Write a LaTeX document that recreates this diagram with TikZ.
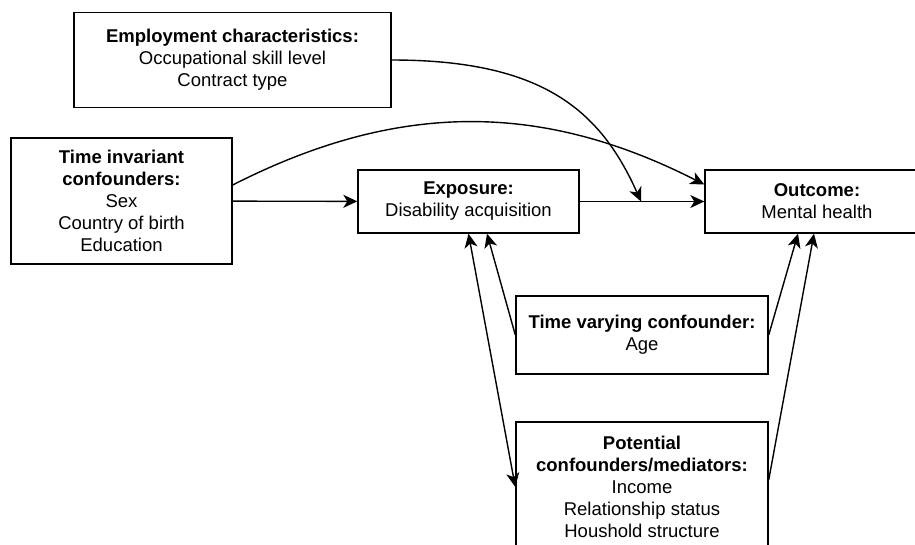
\documentclass[tikz,border=0pt]{standalone}
\usepackage{fontspec}
\setmainfont{Liberation Sans}
\usetikzlibrary{arrows.meta}

\begin{document}
\begin{tikzpicture}[x=1pt,y=1pt]
  \tikzset{box/.style={draw,line width=1.4pt,align=center,inner sep=0pt,font=\fontsize{18.5}{22}\selectfont},
    arr/.style={line width=1.4pt,-{Stealth[length=14pt,width=13pt,inset=4pt]}},
    darr/.style={line width=1.4pt,{Stealth[length=14pt,width=13pt,inset=4pt]}-{Stealth[length=14pt,width=13pt,inset=4pt]}}};
  \useasboundingbox (0,0) rectangle (915,-544);
  \clip (0,0) rectangle (915,-544);
  \node[box,minimum width=317pt,minimum height=95pt] (E) at (232.5,-60)
    {\textbf{Employment characteristics:}\\Occupational skill level\\Contract type};
  \node[box,minimum width=221pt,minimum height=126pt] (TI) at (121.5,-201)
    {\textbf{Time invariant}\\\textbf{confounders:}\\Sex\\Country of birth\\Education};
  \node[box,minimum width=221pt,minimum height=63pt] (X) at (468.5,-201.5)
    {\textbf{Exposure:}\\Disability acquisition};
  \node[box,minimum width=224pt,minimum height=63pt] (O) at (817,-201.5)
    {\textbf{Outcome:}\\Mental health};
  \node[box,minimum width=252pt,minimum height=78pt] (TV) at (642,-335)
    {\textbf{Time varying confounder:}\\Age};
  \node[box,minimum width=252pt,minimum height=130pt] (PC) at (642,-487)
    {\textbf{Potential}\\\textbf{confounders/mediators:}\\Income\\Relationship status\\Houshold structure};
  \coordinate (XO) at (641,-201.5);
  \draw[arr] (TI) -- (X);
  \draw[arr] (X) -- (O);
  \draw[arr] ([yshift=16pt]TI.east) to[out=27,in=153] ([yshift=17pt]O.west);
  \draw[arr] (E.east) .. controls +(150,0) and +(-41,92) .. (XO);
  \draw[darr] (X.south) -- (PC.west);
  \draw[arr] (TV.west) -- ([xshift=18.5pt]X.south);
  \draw[arr] (TV.east) -- ([xshift=-19pt]O.south);
  \draw[arr] ([yshift=7pt]PC.east) -- ([xshift=-3pt]O.south);
\end{tikzpicture}
\end{document}
